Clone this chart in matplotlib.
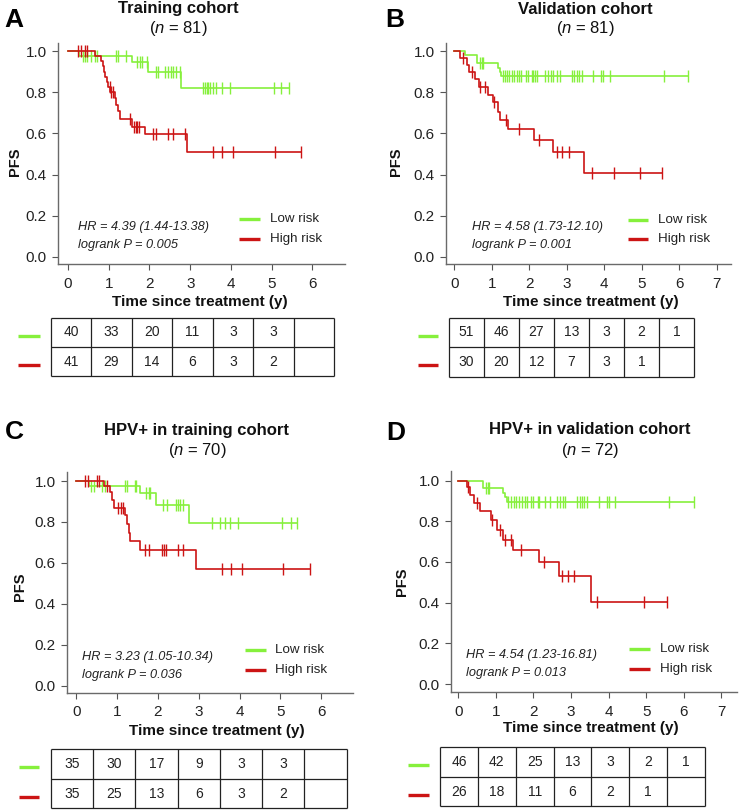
import matplotlib
matplotlib.use("Agg")
import matplotlib.pyplot as plt
import numpy as np
from matplotlib.ticker import FormatStrFormatter

plt.rcParams['font.family'] = ['Liberation Sans', 'DejaVu Sans']
plt.rcParams['mathtext.fontset'] = 'custom'
plt.rcParams['mathtext.rm'] = 'Liberation Sans'
plt.rcParams['mathtext.it'] = 'Liberation Sans:italic'

W, H = 740, 811
GREEN = '#86f03c'
RED = '#cc1414'

# ---- curves: step times, survival after each step, censor times ----
a_low_t = [0.28, 1.56, 1.97, 2.77]
a_low_s = [0.975, 0.945, 0.90, 0.82]
a_low_end = 5.43
a_low_cens = [0.36, 0.41, 0.47, 0.57, 0.66, 0.72, 1.19, 1.23, 1.43, 1.70, 1.77, 1.81,
              1.93, 2.16, 2.21, 2.37, 2.46, 2.52, 2.58, 2.66, 2.74, 3.32, 3.36, 3.40,
              3.44, 3.48, 3.56, 3.64, 3.77, 3.97, 5.05, 5.24, 5.43]
a_high_t = [0.66, 0.82, 0.85, 0.88, 0.91, 0.95, 0.99, 1.04, 1.15, 1.18, 1.22, 1.27,
            1.56, 1.88, 2.93]
a_high_s = [0.975, 0.95, 0.925, 0.90, 0.875, 0.85, 0.825, 0.80, 0.77, 0.74, 0.71, 0.67,
            0.633, 0.595, 0.51]
a_high_end = 5.73
a_high_cens = [0.25, 0.33, 0.41, 0.47, 1.02, 1.06, 1.10, 1.52, 1.62, 1.66, 1.70, 1.74,
               2.09, 2.17, 2.46, 2.58, 2.87, 3.56, 3.78, 4.05, 5.08, 5.73]

b_low_t = [0.28, 0.61, 1.18, 1.22, 1.26]
b_low_s = [0.98, 0.944, 0.92, 0.90, 0.878]
b_low_end = 6.22
b_low_cens = [0.70, 0.73, 0.76, 1.31, 1.35, 1.41, 1.47, 1.53, 1.59, 1.66, 1.72, 1.78,
              1.91, 1.97, 2.06, 2.11, 2.15, 2.21, 2.42, 2.51, 2.57, 2.64, 2.73, 2.82,
              3.13, 3.19, 3.26, 3.33, 3.41, 3.69, 3.91, 3.96, 4.15, 5.58, 6.22]
b_high_t = [0.15, 0.33, 0.40, 0.55, 0.66, 0.90, 1.03, 1.18, 1.23, 1.44, 2.13, 2.64, 3.47]
b_high_s = [0.967, 0.93, 0.90, 0.862, 0.827, 0.787, 0.754, 0.705, 0.665, 0.62, 0.568,
            0.508, 0.41]
b_high_end = 5.54
b_high_cens = [0.23, 0.48, 0.70, 0.83, 1.06, 1.38, 1.72, 2.27, 2.74, 2.88, 3.07, 3.66,
               4.25, 4.94, 5.54]

c_low_t = [0.30, 1.55, 1.96, 2.77]
c_low_s = [0.974, 0.94, 0.885, 0.796]
c_low_end = 5.41
c_low_cens = [0.36, 0.42, 0.63, 0.71, 1.20, 1.24, 1.44, 1.47, 1.71, 1.77, 1.81, 2.13,
              2.22, 2.44, 2.48, 2.54, 2.61, 3.32, 3.52, 3.64, 3.77, 3.97, 5.05, 5.25, 5.41]
c_high_t = [0.67, 0.83, 0.87, 0.91, 1.20, 1.24, 1.28, 1.32, 1.56, 2.93]
c_high_s = [0.974, 0.947, 0.906, 0.87, 0.833, 0.79, 0.744, 0.707, 0.663, 0.57]
c_high_end = 5.72
c_high_cens = [0.22, 0.28, 0.50, 0.56, 0.74, 1.03, 1.09, 1.14, 1.69, 1.77, 2.09, 2.15,
               2.20, 2.48, 2.61, 3.58, 3.78, 4.07, 5.07, 5.72]

d_low_t = [0.65, 1.20, 1.25, 1.30]
d_low_s = [0.962, 0.94, 0.918, 0.896]
d_low_end = 6.27
d_low_cens = [0.74, 0.78, 0.83, 1.33, 1.40, 1.47, 1.54, 1.62, 1.69, 1.78, 1.84, 1.94,
              2.00, 2.11, 2.15, 2.31, 2.44, 2.62, 2.71, 2.78, 2.84, 3.16, 3.23, 3.29,
              3.35, 3.42, 3.75, 3.96, 4.00, 4.18, 5.60, 6.27]
d_high_t = [0.22, 0.31, 0.42, 0.58, 0.86, 1.04, 1.20, 1.45, 2.16, 2.67, 3.53]
d_high_s = [0.967, 0.93, 0.89, 0.848, 0.807, 0.758, 0.709, 0.66, 0.598, 0.533, 0.402]
d_high_end = 5.56
d_high_cens = [0.27, 0.49, 0.89, 1.11, 1.25, 1.40, 1.66, 2.27, 2.76, 2.91, 3.09, 3.69,
               4.95, 5.56]

# numbers at risk
a_low_risk = ['40', '33', '20', '11', '3', '3', '']
a_high_risk = ['41', '29', '14', '6', '3', '2', '']
b_low_risk = ['51', '46', '27', '13', '3', '2', '1']
b_high_risk = ['30', '20', '12', '7', '3', '1', '']
c_low_risk = ['35', '30', '17', '9', '3', '3', '']
c_high_risk = ['35', '25', '13', '6', '3', '2', '']
d_low_risk = ['46', '42', '25', '13', '3', '2', '1']
d_high_risk = ['26', '18', '11', '6', '2', '1', '']

titles = ['Training cohort', 'Validation cohort',
          'HPV+ in training cohort', 'HPV+ in validation cohort']
n_total = [81, 81, 70, 72]
hr_text = ['HR = 4.39 (1.44-13.38)', 'HR = 4.58 (1.73-12.10)',
           'HR = 3.23 (1.05-10.34)', 'HR = 4.54 (1.23-16.81)']
p_text = ['logrank P = 0.005', 'logrank P = 0.001',
          'logrank P = 0.036', 'logrank P = 0.013']
letters = ['A', 'B', 'C', 'D']

fig = plt.figure(figsize=(W / 100, H / 100), dpi=100)


def fx(x, y):
    return x / W, 1 - y / H


def km(ax, t, s, end, cens, color):
    x = np.r_[0, t, end]
    y = np.r_[1, s, s[-1]]
    ax.step(x, y, where='post', color=color, lw=1.2)
    idx = np.searchsorted(t, cens, side='right')
    cy = np.r_[1, s][idx]
    ax.plot(cens, cy, ls='none', marker='|', ms=8, mew=1.0, color=color)


def make_axes(box, xlim, ylim, xmax):
    l, t, r, b = box
    ax = fig.add_axes([l / W, 1 - b / H, (r - l) / W, (b - t) / H])
    ax.set_xlim(xlim)
    ax.set_ylim(ylim)
    for side in ['top', 'right']:
        ax.spines[side].set_visible(False)
    for side in ['left', 'bottom']:
        ax.spines[side].set_color('#6a6a6a')
        ax.spines[side].set_linewidth(1.0)
    ax.set_xticks(range(xmax + 1))
    ax.set_yticks([0, 0.2, 0.4, 0.6, 0.8, 1.0])
    ax.yaxis.set_major_formatter(FormatStrFormatter('%.1f'))
    ax.tick_params(length=4, width=0.8, colors='#555555', labelcolor='#222222',
                   labelsize=11)
    ax.tick_params(axis='y', pad=4)
    ax.tick_params(axis='x', pad=5)
    ax.patch.set_alpha(0)
    return ax


panels = [
    dict(box=(58, 43, 345, 264), xlim=(-0.246, 6.8), ylim=(-0.034, 1.039), xmax=6,
         curves=[(a_low_t, a_low_s, a_low_end, a_low_cens),
                 (a_high_t, a_high_s, a_high_end, a_high_cens)],
         title=(178, 9, 29), letter=(14, 20), ylab=(15, 162), xlab=(200, 302),
         hr=(78, 227, 245), leg=(239, 260, 219, 239, 270),
         table=(50.7, 334.3, 318, 347, 376), tleg=(18, 40),
         risk=(a_low_risk, a_high_risk)),
    dict(box=(446, 43, 731, 264), xlim=(-0.22, 7.38), ylim=(-0.034, 1.039), xmax=7,
         curves=[(b_low_t, b_low_s, b_low_end, b_low_cens),
                 (b_high_t, b_high_s, b_high_end, b_high_cens)],
         title=(585, 9, 29), letter=(395, 20), ylab=(396, 162), xlab=(591, 302),
         hr=(472, 227, 245), leg=(628, 648, 220, 239, 658),
         table=(448.7, 694.3, 318, 347, 376.7), tleg=(418, 438),
         risk=(b_low_risk, b_high_risk)),
    dict(box=(67, 472, 353, 693), xlim=(-0.23, 6.78), ylim=(-0.036, 1.044), xmax=6,
         curves=[(c_low_t, c_low_s, c_low_end, c_low_cens),
                 (c_high_t, c_high_s, c_high_end, c_high_cens)],
         title=(197, 430, 451), letter=(14, 432), ylab=(20, 587), xlab=(217, 731),
         hr=(82, 657, 675), leg=(245, 266, 650, 670, 275),
         table=(50.7, 346.7, 749, 779, 808), tleg=(19, 39),
         risk=(c_low_risk, c_high_risk)),
    dict(box=(451, 471, 737, 692), xlim=(-0.195, 7.42), ylim=(-0.039, 1.047), xmax=7,
         curves=[(d_low_t, d_low_s, d_low_end, d_low_cens),
                 (d_high_t, d_high_s, d_high_end, d_high_cens)],
         title=(590, 430, 451), letter=(396, 433), ylab=(402, 582), xlab=(591, 728),
         hr=(466, 655, 673), leg=(629, 650, 649, 669, 660),
         table=(440, 705, 747, 777, 806), tleg=(408, 429),
         risk=(d_low_risk, d_high_risk)),
]

# overlay in pixel coordinates for tables and legends
ov = fig.add_axes([0, 0, 1, 1])
ov.set_xlim(0, W)
ov.set_ylim(H, 0)
ov.axis('off')

for i, p in enumerate(panels):
    ax = make_axes(p['box'], p['xlim'], p['ylim'], p['xmax'])
    for (t, s, end, cens), col in zip(p['curves'], [GREEN, RED]):
        km(ax, t, s, end, cens, col)

    tx, ty1, ty2 = p['title']
    fig.text(*fx(tx, ty1), titles[i], ha='center', va='center',
             fontsize=12, fontweight='bold', color='#111111')
    fig.text(*fx(tx, ty2), r'($\it{n}$ = %d)' % n_total[i], ha='center',
             va='center', fontsize=12, color='#111111')
    fig.text(*fx(*p['letter']), letters[i], ha='center', va='center',
             fontsize=19, fontweight='bold', color='black')
    fig.text(*fx(*p['ylab']), 'PFS', ha='center', va='center', rotation=90,
             fontsize=10.5, fontweight='bold', color='#111111')
    fig.text(*fx(*p['xlab']), 'Time since treatment (y)', ha='center',
             va='center', fontsize=11, fontweight='bold', color='#111111')

    hx, hy1, hy2 = p['hr']
    fig.text(*fx(hx, hy1), hr_text[i], ha='left', va='center', fontsize=9.2,
             style='italic', color='#222222')
    fig.text(*fx(hx, hy2), p_text[i], ha='left', va='center', fontsize=9.2,
             style='italic', color='#222222')

    lx0, lx1, ly1, ly2, ltx = p['leg']
    ov.plot([lx0, lx1], [ly1, ly1], color=GREEN, lw=2.4, solid_capstyle='butt')
    ov.plot([lx0, lx1], [ly2, ly2], color=RED, lw=2.4, solid_capstyle='butt')
    ov.text(ltx, ly1, 'Low risk', ha='left', va='center', fontsize=9.6,
            color='#222222')
    ov.text(ltx, ly2, 'High risk', ha='left', va='center', fontsize=9.6,
            color='#222222')

    # number-at-risk table
    left, right, top, mid, bottom = p['table']
    cols = np.linspace(left, right, 8)
    ov.hlines([top, mid, bottom], left, right, color='#222222', lw=0.9)
    ov.vlines(cols, top, bottom, color='#222222', lw=0.9)
    centers = (cols[:-1] + cols[1:]) / 2
    for row, (vals, col) in enumerate(zip(p['risk'], [GREEN, RED])):
        yc = (top + mid) / 2 if row == 0 else (mid + bottom) / 2
        for xc, v in zip(centers, vals):
            ov.text(xc, yc, v, ha='center', va='center', fontsize=10,
                    color='#222222')
        tx0, tx1 = p['tleg']
        ov.plot([tx0, tx1], [yc + 3, yc + 3], color=col, lw=2.4,
                solid_capstyle='butt')

fig.savefig('out.png', dpi=100)
